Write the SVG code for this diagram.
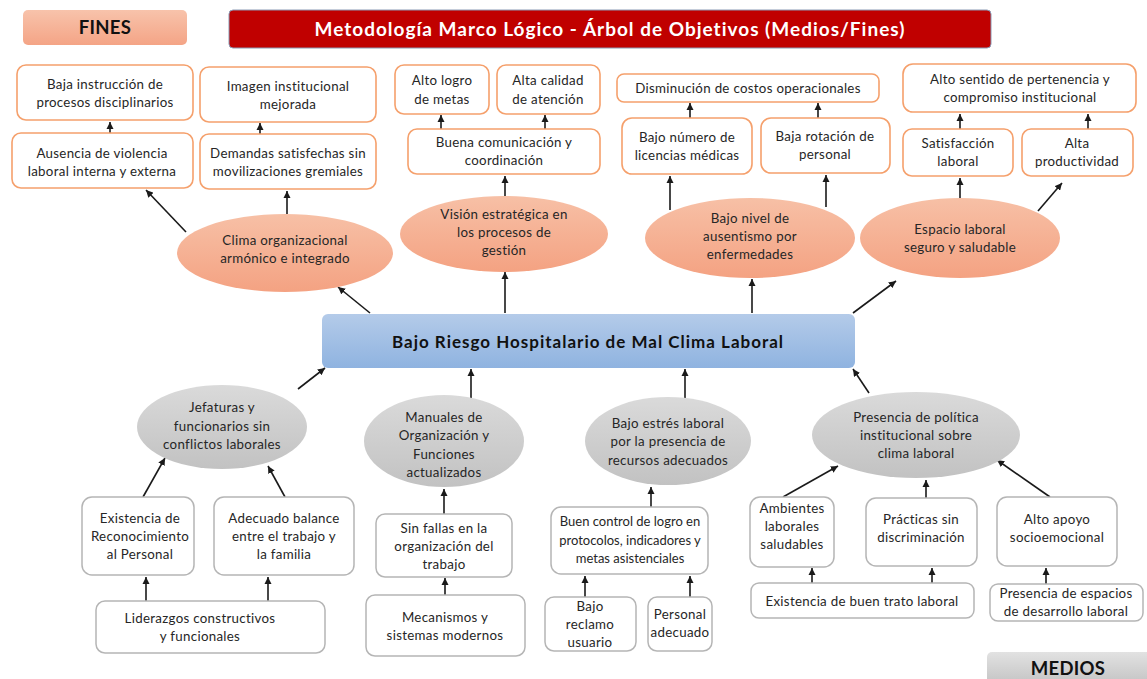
<svg xmlns="http://www.w3.org/2000/svg" width="1147" height="679" viewBox="0 0 1147 679">
  <defs>
    <style>
      text { font-family: Lato, "Open Sans", "Liberation Sans", sans-serif; fill: #262626; text-anchor: middle; font-size: 13.3px; letter-spacing: 0.3px; }
      .tight { letter-spacing: 0; font-size: 13px; }
      .ob { fill: #ffffff; stroke: #f5a06c; stroke-width: 1.6; }
      .gb { fill: #ffffff; stroke: #b5b5b5; stroke-width: 1.5; }
      .oe { fill: url(#orangeGrad); }
      .ge { fill: url(#grayGrad); }
      .arr { stroke: #1a1a1a; stroke-width: 1.6; fill: none; marker-end: url(#head); }
      .hdr { font-weight: bold; font-size: 18.5px; fill: #111; letter-spacing: 0.3px; }
    </style>
    <linearGradient id="orangeGrad" x1="0" y1="0" x2="0" y2="1">
      <stop offset="0" stop-color="#f7c0a6"/>
      <stop offset="1" stop-color="#f4a282"/>
    </linearGradient>
    <linearGradient id="grayGrad" x1="0" y1="0" x2="0" y2="1">
      <stop offset="0" stop-color="#dadada"/>
      <stop offset="1" stop-color="#c2c2c2"/>
    </linearGradient>
    <linearGradient id="blueGrad" x1="0" y1="0" x2="0" y2="1">
      <stop offset="0" stop-color="#b4cbe9"/>
      <stop offset="1" stop-color="#8fb3e0"/>
    </linearGradient>
    <linearGradient id="finesGrad" x1="0" y1="0" x2="0" y2="1">
      <stop offset="0" stop-color="#f8c3ab"/>
      <stop offset="1" stop-color="#f4a486"/>
    </linearGradient>
    <linearGradient id="mediosGrad" x1="0" y1="0" x2="0" y2="1">
      <stop offset="0" stop-color="#e2e2e2"/>
      <stop offset="1" stop-color="#bcbcbc"/>
    </linearGradient>
    <marker id="head" viewBox="0 0 10 10" refX="10" refY="5" markerWidth="4.5" markerHeight="4.5" orient="auto" markerUnits="strokeWidth">
      <path d="M0,0 L10,5 L0,10 Z" fill="#1a1a1a"/>
    </marker>
  </defs>

  <rect width="1147" height="679" fill="#ffffff"/>

  <!-- headers -->
  <g id="fines">
    <rect x="23" y="10" width="164" height="35" rx="5" fill="url(#finesGrad)"/>
    <text x="105" y="34" class="hdr">FINES</text>
  </g>
  <g id="title">
    <rect x="229" y="10" width="762" height="38" rx="4" fill="#c00000" stroke="#8a9ab5" stroke-width="1"/>
    <text x="610" y="36" style="font-weight:bold;font-size:19px;fill:#ffffff;letter-spacing:1px">Metodología Marco Lógico - Árbol de Objetivos (Medios/Fines)</text>
  </g>
  <g id="medios">
    <rect x="987" y="652" width="170" height="40" rx="5" fill="url(#mediosGrad)"/>
    <text x="1068" y="675" class="hdr">MEDIOS</text>
  </g>

  <!-- connectors -->
  <g id="connectors">
    <!-- upper branch -->
    <line class="arr" x1="110" y1="133" x2="110" y2="122"/>
    <line class="arr" x1="260" y1="134" x2="260" y2="123"/>
    <line class="arr" x1="186" y1="232" x2="146" y2="190"/>
    <line class="arr" x1="287" y1="214" x2="287" y2="191"/>
    <line class="arr" x1="370" y1="313" x2="338" y2="287"/>
    <line class="arr" x1="441" y1="129" x2="441" y2="115"/>
    <line class="arr" x1="545" y1="129" x2="545" y2="115"/>
    <line class="arr" x1="505" y1="197" x2="505" y2="176"/>
    <line class="arr" x1="505" y1="313" x2="505" y2="272"/>
    <line class="arr" x1="690" y1="118" x2="690" y2="103"/>
    <line class="arr" x1="818" y1="118" x2="818" y2="103"/>
    <line class="arr" x1="670" y1="210" x2="670" y2="176"/>
    <line class="arr" x1="826" y1="207" x2="826" y2="175"/>
    <line class="arr" x1="752" y1="313" x2="752" y2="279"/>
    <line class="arr" x1="960" y1="129" x2="960" y2="114"/>
    <line class="arr" x1="1088" y1="129" x2="1088" y2="114"/>
    <line class="arr" x1="960" y1="198" x2="960" y2="178"/>
    <line class="arr" x1="1038" y1="211" x2="1062" y2="183"/>
    <line class="arr" x1="853" y1="313" x2="896" y2="281"/>
    <!-- lower branch -->
    <line class="arr" x1="298" y1="389" x2="325" y2="368"/>
    <line class="arr" x1="471" y1="398" x2="471" y2="369"/>
    <line class="arr" x1="685" y1="398" x2="685" y2="369"/>
    <line class="arr" x1="869" y1="393" x2="853" y2="369"/>
    <line class="arr" x1="143" y1="497" x2="165" y2="458"/>
    <line class="arr" x1="285" y1="497" x2="268" y2="466"/>
    <line class="arr" x1="146" y1="601" x2="146" y2="577"/>
    <line class="arr" x1="268" y1="601" x2="268" y2="577"/>
    <line class="arr" x1="444" y1="514" x2="444" y2="489"/>
    <line class="arr" x1="445" y1="595" x2="445" y2="578"/>
    <line class="arr" x1="651" y1="507" x2="651" y2="487"/>
    <line class="arr" x1="585" y1="597" x2="585" y2="576"/>
    <line class="arr" x1="690" y1="597" x2="690" y2="576"/>
    <line class="arr" x1="783" y1="497" x2="838" y2="466"/>
    <line class="arr" x1="926" y1="498" x2="926" y2="480"/>
    <line class="arr" x1="1050" y1="497" x2="997" y2="460"/>
    <line class="arr" x1="812" y1="583" x2="812" y2="568"/>
    <line class="arr" x1="932" y1="583" x2="932" y2="568"/>
    <line class="arr" x1="1046" y1="584" x2="1046" y2="568"/>
  </g>

  <!-- ends (fines) -->
  <g id="n-baja-instruccion">
    <rect class="ob" x="17" y="65" width="176" height="55" rx="9"/>
    <text x="105" y="89">Baja instrucción de</text>
    <text x="105" y="107">procesos disciplinarios</text>
  </g>
  <g id="n-imagen">
    <rect class="ob" x="200" y="67" width="176" height="55" rx="9"/>
    <text x="288" y="91">Imagen institucional</text>
    <text x="288" y="109">mejorada</text>
  </g>
  <g id="n-ausencia-violencia">
    <rect class="ob" x="12" y="133" width="181" height="55" rx="9"/>
    <text x="102" y="158">Ausencia de violencia</text>
    <text x="102" y="176">laboral interna y externa</text>
  </g>
  <g id="n-demandas">
    <rect class="ob" x="200" y="134" width="176" height="55" rx="9"/>
    <text x="288" y="158">Demandas satisfechas sin</text>
    <text x="288" y="176">movilizaciones gremiales</text>
  </g>
  <g id="n-alto-logro">
    <rect class="ob" x="395" y="65" width="94" height="49" rx="9"/>
    <text x="442" y="85">Alto logro</text>
    <text x="442" y="104">de metas</text>
  </g>
  <g id="n-alta-calidad">
    <rect class="ob" x="497" y="65" width="103" height="49" rx="9"/>
    <text x="548" y="85">Alta calidad</text>
    <text x="548" y="104">de atención</text>
  </g>
  <g id="n-buena-comunicacion">
    <rect class="ob" x="408" y="129" width="192" height="45" rx="9"/>
    <text x="504" y="147">Buena comunicación y</text>
    <text x="504" y="165">coordinación</text>
  </g>
  <g id="n-disminucion-costos">
    <rect class="ob" x="617" y="74" width="262" height="28" rx="7"/>
    <text x="748" y="93">Disminución de costos operacionales</text>
  </g>
  <g id="n-bajo-numero">
    <rect class="ob" x="622" y="118" width="130" height="56" rx="10"/>
    <text x="687" y="142">Bajo número de</text>
    <text x="687" y="160">licencias médicas</text>
  </g>
  <g id="n-baja-rotacion">
    <rect class="ob" x="761" y="118" width="129" height="55" rx="10"/>
    <text x="825" y="141">Baja rotación de</text>
    <text x="825" y="159">personal</text>
  </g>
  <g id="n-alto-sentido">
    <rect class="ob" x="903" y="64" width="233" height="48" rx="10"/>
    <text x="1020" y="84">Alto sentido de pertenencia y</text>
    <text x="1020" y="102">compromiso institucional</text>
  </g>
  <g id="n-satisfaccion">
    <rect class="ob" x="903" y="129" width="110" height="47" rx="9"/>
    <text x="958" y="148">Satisfacción</text>
    <text x="958" y="166">laboral</text>
  </g>
  <g id="n-alta-productividad">
    <rect class="ob" x="1022" y="129" width="111" height="47" rx="9"/>
    <text x="1077" y="148">Alta</text>
    <text x="1077" y="166">productividad</text>
  </g>

  <!-- upper ellipses -->
  <g id="n-clima">
    <ellipse class="oe" cx="285" cy="253" rx="108" ry="39"/>
    <text x="285" y="245">Clima organizacional</text>
    <text x="285" y="263">armónico e integrado</text>
  </g>
  <g id="n-vision">
    <ellipse class="oe" cx="504" cy="234" rx="104" ry="38"/>
    <text x="504" y="219">Visión estratégica en</text>
    <text x="504" y="237">los procesos de</text>
    <text x="504" y="255">gestión</text>
  </g>
  <g id="n-ausentismo">
    <ellipse class="oe" cx="750" cy="238" rx="105" ry="40"/>
    <text x="750" y="223">Bajo nivel de</text>
    <text x="750" y="241">ausentismo por</text>
    <text x="750" y="259">enfermedades</text>
  </g>
  <g id="n-espacio">
    <ellipse class="oe" cx="960" cy="238" rx="100" ry="40"/>
    <text x="960" y="234">Espacio laboral</text>
    <text x="960" y="252">seguro y saludable</text>
  </g>

  <!-- central problem -->
  <g id="n-central">
    <rect x="322" y="314" width="533" height="54" rx="6" fill="url(#blueGrad)"/>
    <text x="588" y="348" style="font-weight:bold;font-size:17px;fill:#111;letter-spacing:1px">Bajo Riesgo Hospitalario de Mal Clima Laboral</text>
  </g>

  <!-- lower ellipses (medios) -->
  <g id="n-jefaturas">
    <ellipse class="ge" cx="222" cy="427" rx="85" ry="42"/>
    <text x="222" y="412">Jefaturas y</text>
    <text x="222" y="431">funcionarios sin</text>
    <text x="222" y="449">conflictos laborales</text>
  </g>
  <g id="n-manuales">
    <ellipse class="ge" cx="444" cy="441" rx="80" ry="46"/>
    <text x="444" y="422">Manuales de</text>
    <text x="444" y="440">Organización y</text>
    <text x="444" y="459">Funciones</text>
    <text x="444" y="477">actualizados</text>
  </g>
  <g id="n-bajo-estres">
    <ellipse class="ge" cx="668" cy="441" rx="83" ry="44"/>
    <text x="668" y="428">Bajo estrés laboral</text>
    <text x="668" y="446">por la presencia de</text>
    <text x="668" y="465">recursos adecuados</text>
  </g>
  <g id="n-presencia-politica">
    <ellipse class="ge" cx="916" cy="435" rx="104" ry="43"/>
    <text x="916" y="422">Presencia de política</text>
    <text x="916" y="440">institucional sobre</text>
    <text x="916" y="458">clima laboral</text>
  </g>

  <!-- lower boxes -->
  <g id="n-reconocimiento">
    <rect class="gb" x="82" y="497" width="112" height="78" rx="10"/>
    <text x="140" y="523">Existencia de</text>
    <text x="140" y="541">Reconocimiento</text>
    <text x="140" y="559">al Personal</text>
  </g>
  <g id="n-balance">
    <rect class="gb" x="214" y="497" width="140" height="78" rx="10"/>
    <text x="284" y="523">Adecuado balance</text>
    <text x="284" y="541">entre el trabajo y</text>
    <text x="284" y="559">la familia</text>
  </g>
  <g id="n-liderazgos">
    <rect class="gb" x="96" y="601" width="229" height="52" rx="9"/>
    <text x="200" y="623">Liderazgos constructivos</text>
    <text x="200" y="641">y funcionales</text>
  </g>
  <g id="n-sin-fallas">
    <rect class="gb" x="376" y="514" width="136" height="63" rx="9"/>
    <text x="444" y="533">Sin fallas en la</text>
    <text x="444" y="551">organización del</text>
    <text x="444" y="569">trabajo</text>
  </g>
  <g id="n-mecanismos">
    <rect class="gb" x="366" y="595" width="159" height="61" rx="9"/>
    <text x="445" y="622">Mecanismos y</text>
    <text x="445" y="640">sistemas modernos</text>
  </g>
  <g id="n-buen-control">
    <rect class="gb" x="551" y="507" width="157" height="67" rx="10"/>
    <text x="630" y="526" class="tight">Buen control de logro en</text>
    <text x="630" y="545" class="tight">protocolos, indicadores y</text>
    <text x="630" y="563" class="tight">metas asistenciales</text>
  </g>
  <g id="n-bajo-reclamo">
    <rect class="gb" x="545" y="597" width="91" height="54" rx="9"/>
    <text x="590" y="611">Bajo</text>
    <text x="590" y="629">reclamo</text>
    <text x="590" y="647">usuario</text>
  </g>
  <g id="n-personal-adecuado">
    <rect class="gb" x="648" y="597" width="64" height="54" rx="9"/>
    <text x="680" y="619">Personal</text>
    <text x="680" y="637">adecuado</text>
  </g>
  <g id="n-ambientes">
    <rect class="gb" x="750" y="497" width="84" height="70" rx="10"/>
    <text x="792" y="513">Ambientes</text>
    <text x="792" y="531">laborales</text>
    <text x="792" y="549">saludables</text>
  </g>
  <g id="n-practicas">
    <rect class="gb" x="866" y="498" width="111" height="68" rx="10"/>
    <text x="921" y="524">Prácticas sin</text>
    <text x="921" y="542">discriminación</text>
  </g>
  <g id="n-apoyo">
    <rect class="gb" x="997" y="497" width="120" height="69" rx="10"/>
    <text x="1057" y="524">Alto apoyo</text>
    <text x="1057" y="542">socioemocional</text>
  </g>
  <g id="n-buen-trato">
    <rect class="gb" x="751" y="583" width="223" height="35" rx="8"/>
    <text x="862" y="606">Existencia de buen trato laboral</text>
  </g>
  <g id="n-espacios-desarrollo">
    <rect class="gb" x="990" y="584" width="153" height="37" rx="8"/>
    <text x="1066" y="598">Presencia de espacios</text>
    <text x="1066" y="616">de desarrollo laboral</text>
  </g>
</svg>
